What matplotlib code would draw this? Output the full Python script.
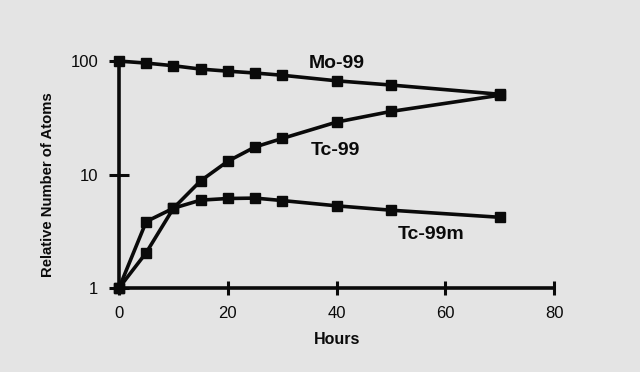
import matplotlib
matplotlib.use("Agg")
import matplotlib.pyplot as plt
from matplotlib.ticker import FixedLocator, NullLocator

# -------------------
# Data
# -------------------
hours = [0, 5, 10, 15, 20, 25, 30, 40, 50, 70]
mo99 = [100, 96, 91, 85, 81.5, 78.5, 75, 67, 61.5, 51]
tc99 = [1, 2.05, 5.05, 8.8, 13.1, 17.5, 20.8, 29, 36, 50]
tc99m = [1, 3.85, 5.05, 5.95, 6.15, 6.2, 5.9, 5.3, 4.85, 4.2]

series_names = ["Mo-99", "Tc-99", "Tc-99m"]
x_ticks = [0, 20, 40, 60, 80]
y_ticks = [1, 10, 100]

bg = "#e4e4e4"
ink = "#0a0a0a"

plt.rcParams['font.family'] = ['Liberation Sans', 'DejaVu Sans']

fig = plt.figure(figsize=(6.4, 3.72), dpi=100, facecolor=bg)
ax = fig.add_axes([0.186, 0.2258, 0.680, 0.610])
ax.set_facecolor(bg)

for ys in (mo99, tc99, tc99m):
    ax.plot(hours, ys, color=ink, lw=2.6, marker='s', ms=7.5,
            markerfacecolor=ink, markeredgecolor=ink, clip_on=False, zorder=3)

ax.set_yscale('log')
ax.set_xlim(0, 80)
ax.set_ylim(1, 100)

# -------------------
# Axes styling
# -------------------
for side in ('top', 'right'):
    ax.spines[side].set_visible(False)
for side in ('left', 'bottom'):
    ax.spines[side].set_linewidth(2.6)
    ax.spines[side].set_color(ink)

ax.xaxis.set_major_locator(FixedLocator(x_ticks))
ax.yaxis.set_major_locator(FixedLocator(y_ticks))
ax.yaxis.set_minor_locator(NullLocator())
ax.set_yticklabels([str(v) for v in y_ticks])
ax.tick_params(axis='both', direction='inout', width=2.2, color=ink,
               labelsize=12, labelcolor=ink)
ax.tick_params(axis='x', length=10, pad=8)
ax.tick_params(axis='y', length=14, pad=8)

ax.set_xlabel("Hours", fontsize=11.5, fontweight='bold', labelpad=8, color=ink)
ax.set_ylabel("Relative Number of Atoms", fontsize=10.7, fontweight='bold',
              color=ink)
ax.yaxis.set_label_coords(-0.147, 0.454)

# series labels
ax.text(34.9, 95, series_names[0], fontsize=14, fontweight='bold', color=ink,
        ha='left', va='center')
ax.text(35.3, 19.5, series_names[1], fontsize=14, fontweight='bold', color=ink,
        ha='left', va='top')
ax.text(51.3, 2.95, series_names[2], fontsize=14, fontweight='bold', color=ink,
        ha='left', va='center')

fig.savefig("out.png", dpi=100, facecolor=bg)
